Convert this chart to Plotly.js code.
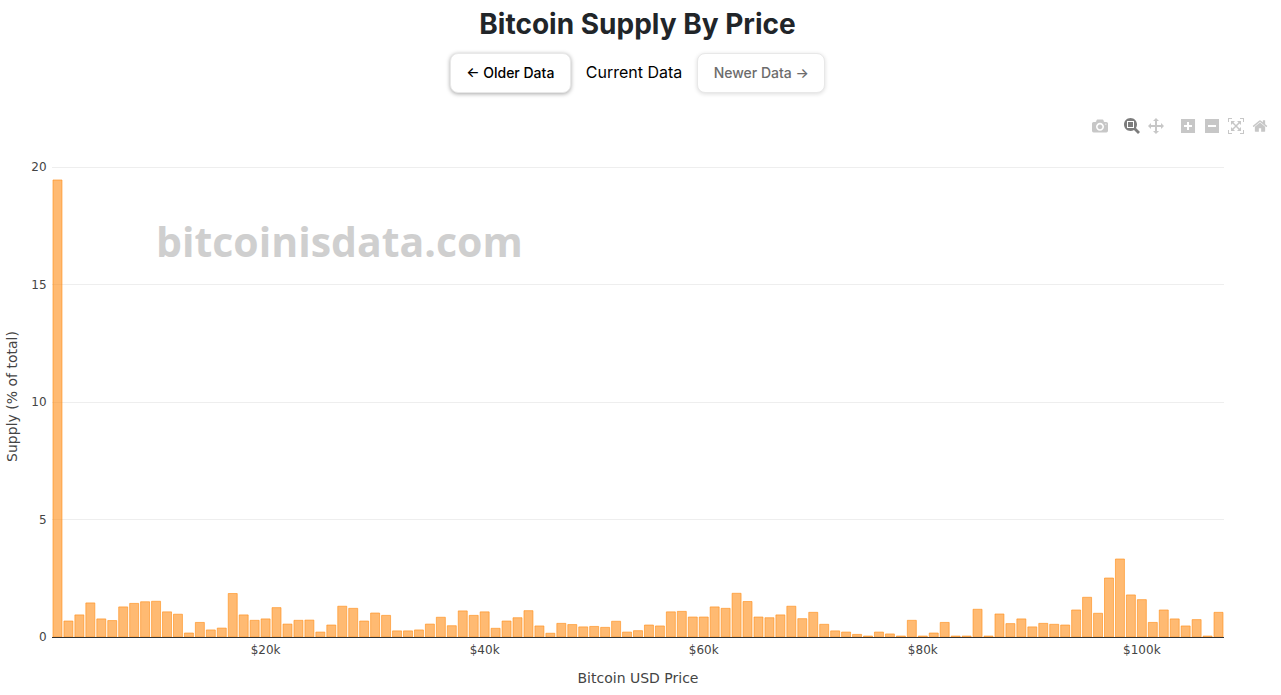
<!DOCTYPE html>
<html>
<head>
<meta charset="utf-8">
<script src="https://cdn.plot.ly/plotly-3.0.1.min.js"></script>
<style>
html,body{margin:0;padding:0;background:#fff;font-family:Inter,sans-serif;color:#212529}
html{overflow:hidden}
#wrap{width:1275px;height:695px;position:relative}
h1{position:absolute;left:0;right:0;top:6px;margin:0;text-align:center;font:700 28px/36px Inter,sans-serif;color:#212529}
#nav{position:absolute;top:53px;left:0;right:0;display:flex;justify-content:center;align-items:center;height:40px}
.btn{box-sizing:border-box;height:40px;background:#fff;border:1px solid #e8e8e8;border-radius:8px;font:500 14px/38px Inter,sans-serif;text-align:center}
#older{width:121px;color:#000;box-shadow:0 1px 4px rgba(0,0,0,.35)}
#newer{width:128px;color:#6c6c6c;box-shadow:0 1px 4px rgba(0,0,0,.14)}
#cur{margin:0 15px;font:400 16px/24px Inter,sans-serif;color:#000;position:relative;top:-1px}
#chart{position:absolute;left:0;top:112px;width:1274px;height:583px}
</style>
</head>
<body>
<div id="wrap">
<h1>Bitcoin Supply By Price</h1>
<div id="nav"><div class="btn" id="older">← Older Data</div><div id="cur">Current Data</div><div class="btn" id="newer">Newer Data →</div></div>
<div id="chart"></div>
</div>
<script>
const priceBins = [1000,2000,3000,4000,5000,6000,7000,8000,9000,10000,11000,12000,13000,14000,15000,16000,17000,18000,19000,20000,21000,22000,23000,24000,25000,26000,27000,28000,29000,30000,31000,32000,33000,34000,35000,36000,37000,38000,39000,40000,41000,42000,43000,44000,45000,46000,47000,48000,49000,50000,51000,52000,53000,54000,55000,56000,57000,58000,59000,60000,61000,62000,63000,64000,65000,66000,67000,68000,69000,70000,71000,72000,73000,74000,75000,76000,77000,78000,79000,80000,81000,82000,83000,84000,85000,86000,87000,88000,89000,90000,91000,92000,93000,94000,95000,96000,97000,98000,99000,100000,101000,102000,103000,104000,105000,106000,107000];
const supplyPct = [19.45,0.68,0.94,1.45,0.77,0.70,1.28,1.43,1.50,1.52,1.07,0.97,0.17,0.62,0.30,0.38,1.85,0.94,0.71,0.77,1.25,0.55,0.71,0.72,0.21,0.51,1.31,1.22,0.68,1.02,0.92,0.26,0.26,0.30,0.55,0.84,0.48,1.11,0.92,1.07,0.37,0.68,0.82,1.12,0.47,0.16,0.58,0.53,0.43,0.45,0.41,0.67,0.21,0.27,0.51,0.47,1.07,1.09,0.85,0.85,1.28,1.22,1.86,1.51,0.85,0.82,0.94,1.31,0.78,1.05,0.54,0.26,0.21,0.11,0.04,0.21,0.13,0.04,0.71,0.04,0.17,0.62,0.04,0.04,1.18,0.04,0.98,0.57,0.77,0.43,0.58,0.54,0.51,1.15,1.69,1.01,2.51,3.32,1.79,1.59,0.62,1.15,0.77,0.47,0.74,0.04,1.05];
const xTickVals = [20000,40000,60000,80000,100000];
const xTickText = ["$20k","$40k","$60k","$80k","$100k"];
const yTickVals = [0,5,10,15,20];
const watermarkText = "bitcoinisdata.com";

Plotly.newPlot('chart',[{
  type:'bar', x:priceBins, y:supplyPct,
  marker:{color:'rgba(255,140,20,0.6)',line:{color:'rgba(255,140,20,0.6)',width:1}}
}],{
  width:1274,height:583,
  margin:{l:52,r:50,t:44,b:58},
  bargap:0.18,
  showlegend:false,
  paper_bgcolor:'#fff',plot_bgcolor:'#fff',
  font:{family:'Verdana, "DejaVu Sans", sans-serif',size:12,color:'#444'},
  annotations:[{text:watermarkText,xref:'paper',yref:'paper',x:0.2457,y:0.823,showarrow:false,xanchor:'center',yanchor:'middle',
    font:{family:'"Open Sans", sans-serif',size:41,color:'#cfcfcf',weight:700}}],
  xaxis:{range:[500,107500],tickvals:xTickVals,ticktext:xTickText,showgrid:false,showline:true,linecolor:'#333',linewidth:1,zeroline:false,
    ticks:'outside',ticklen:2,tickcolor:'rgba(0,0,0,0)',
    title:{text:'Bitcoin USD Price',font:{size:14},standoff:16}},
  yaxis:{range:[0,20.47],tickvals:yTickVals,gridcolor:'#eee',zeroline:false,
    ticks:'outside',ticklen:2,tickcolor:'rgba(0,0,0,0)',
    title:{text:'Supply (% of total)',font:{size:14},standoff:10}}
},{
  displayModeBar:true,displaylogo:false,
  modeBarButtonsToRemove:['select2d','lasso2d']
});
</script>
</body>
</html>
